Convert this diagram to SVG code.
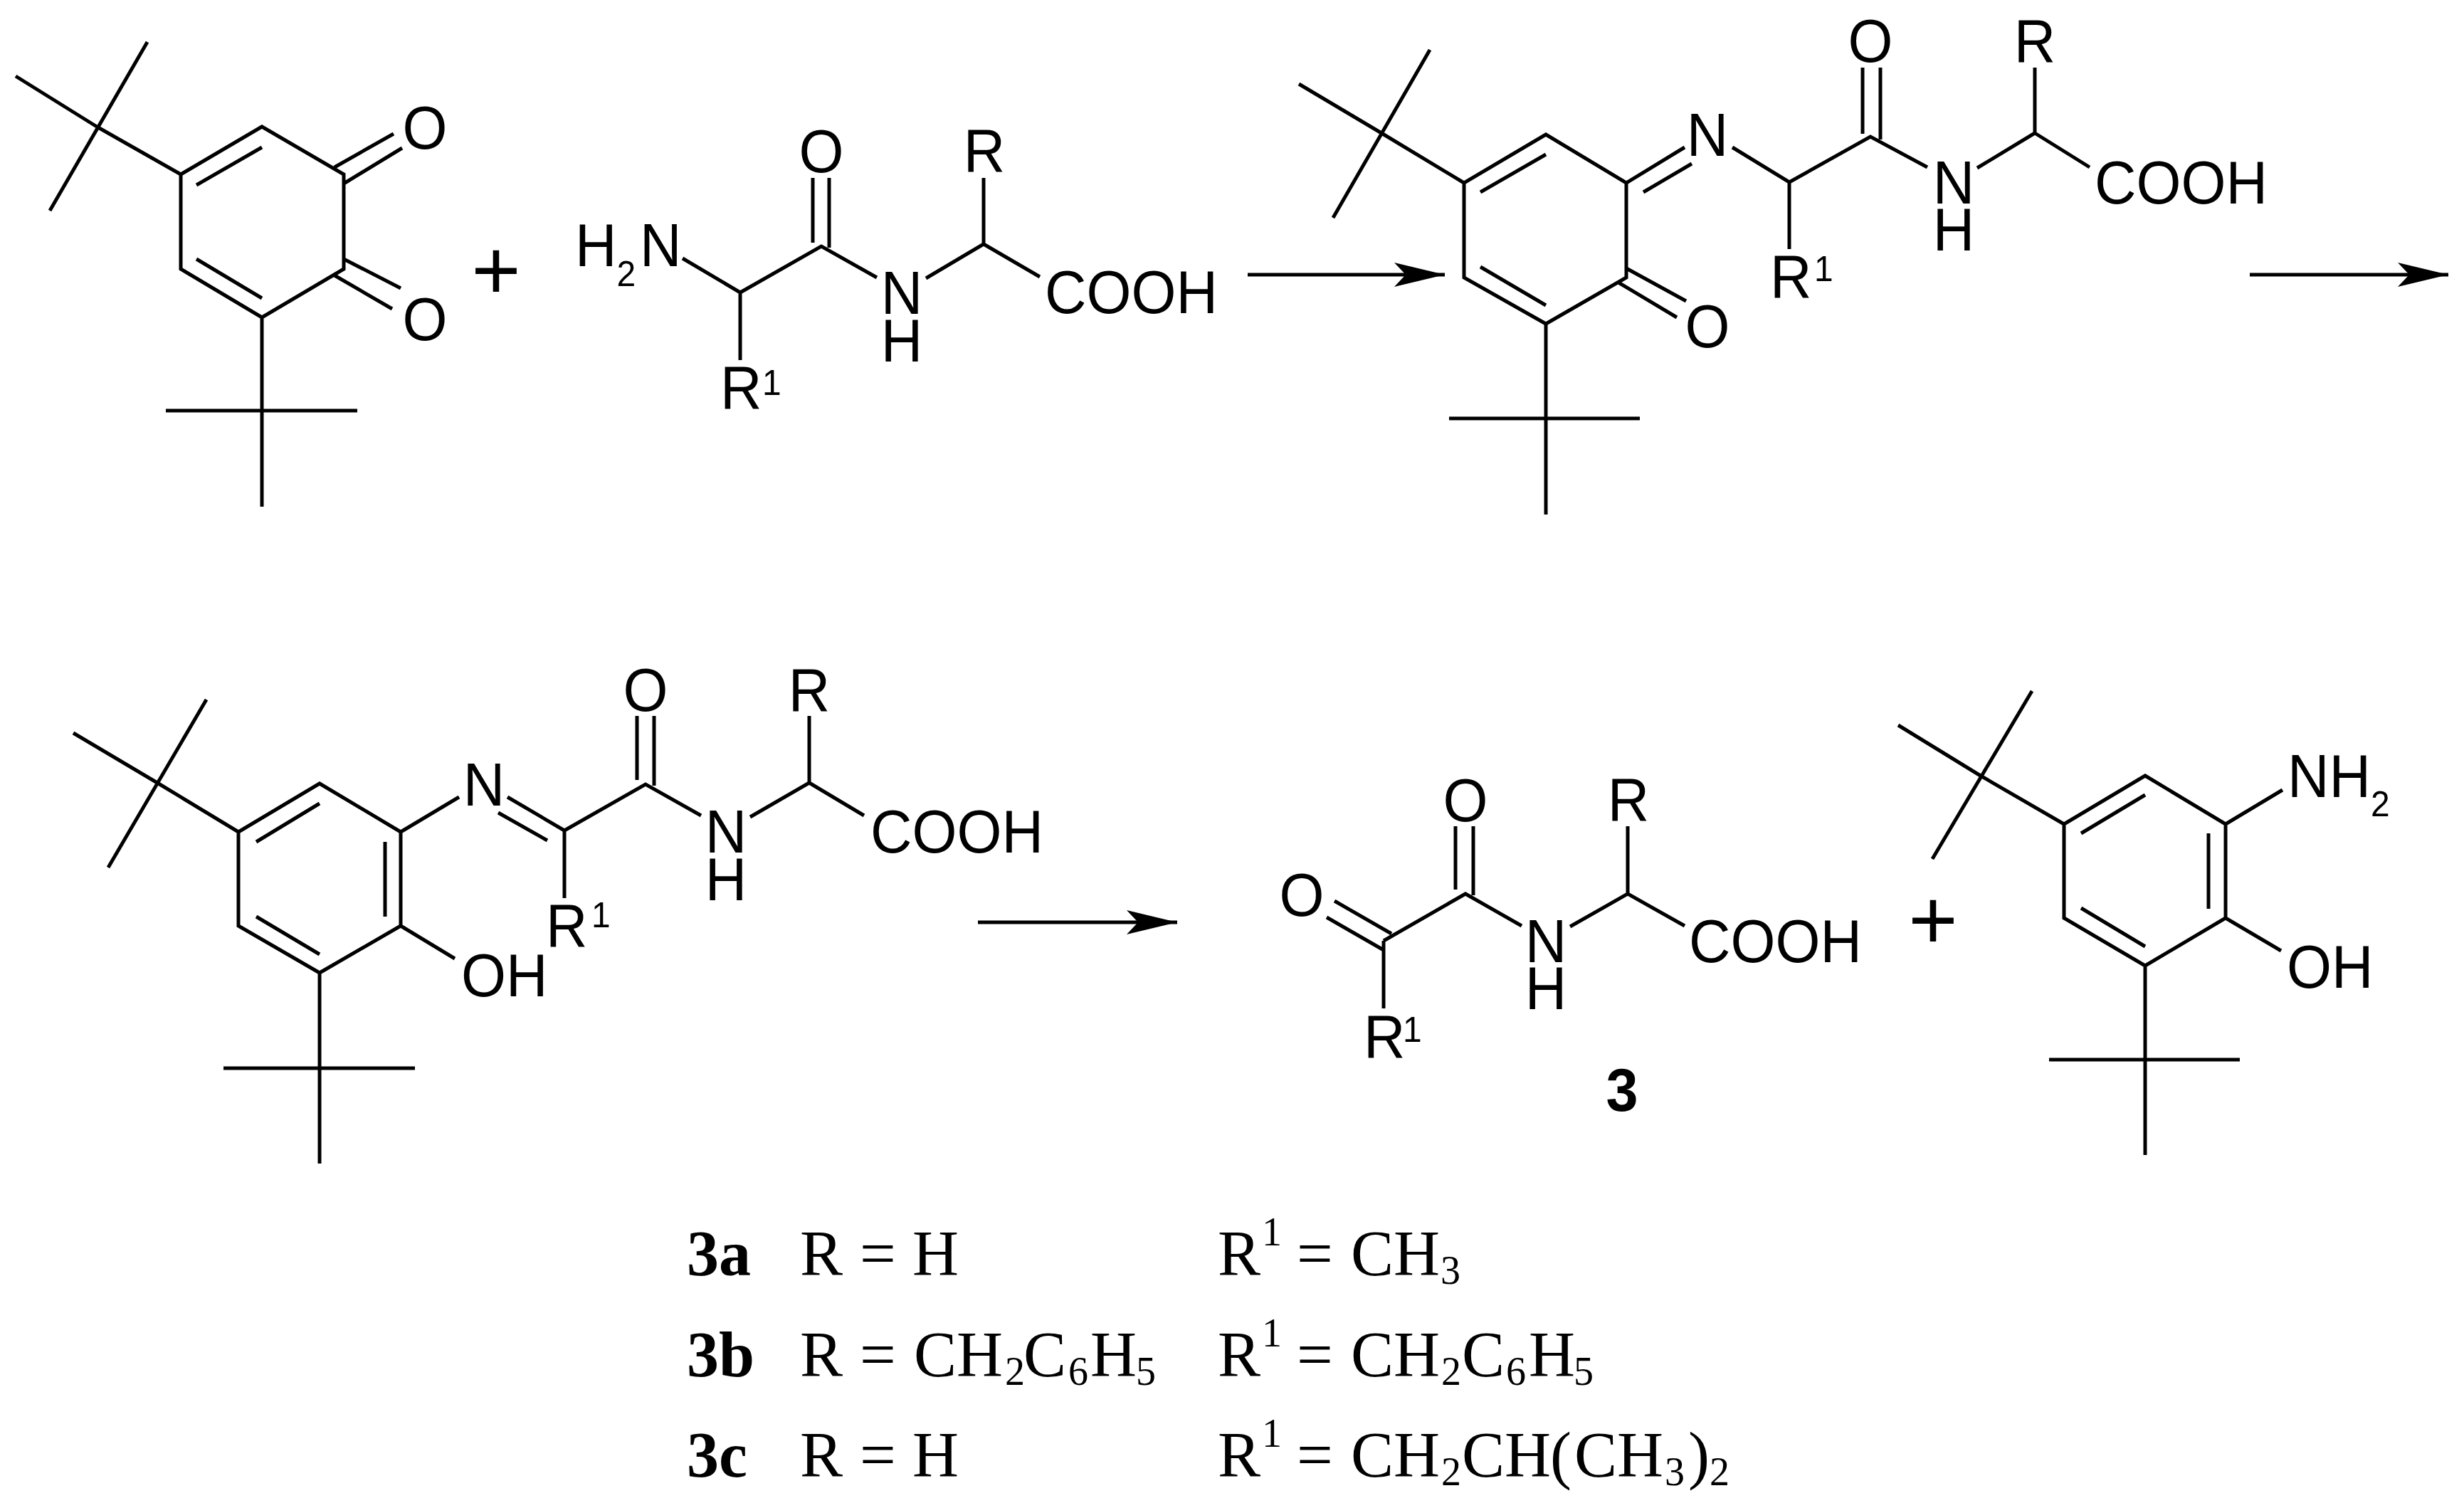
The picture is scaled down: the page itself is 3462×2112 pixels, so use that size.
<svg xmlns="http://www.w3.org/2000/svg" width="3462" height="2112" viewBox="0 0 3462 2112">
<defs>
<marker id="ah" markerUnits="userSpaceOnUse" markerWidth="80" markerHeight="40" refX="71" refY="17" orient="auto"><path d="M0 0L71 17L0 34L16 17Z" fill="#000"/></marker>
</defs>
<style>
.b{fill:none;stroke:#000;stroke-width:5;stroke-linecap:butt;stroke-linejoin:miter}
.a{fill:none;stroke:#000;stroke-width:5;marker-end:url(#ah)}
text{fill:#000}
.s{font-family:"Liberation Sans",Arial,sans-serif;font-size:81px;transform-box:fill-box;transform-origin:50% 81%;transform:scaleY(1.045)}
.m{text-anchor:middle}
.sm{font-size:48px}
.bd{font-weight:bold}
.p{font-size:119px;transform:none}
.t{font-family:"Liberation Serif","Times New Roman",serif;font-size:90px}
.ts{font-size:56px}
</style>
<rect width="3462" height="2112" fill="#fff"/>
<g id="quinone">
<path class="b" d="M368 178L483 245V378L368 446L254 378V245ZM368 207L276 260M276 364L368 419M553 188L470 235M565 208L483 258M483 364L563 405M470 387L551 434M136 178L254 245M207 59L70 296M22 107L136 178M368 446V712M233 577H502"/>
<text class="s m" x="597" y="209">O</text>
<text class="s m" x="597" y="478">O</text>
</g>
<g id="plus1"><text class="s m p" x="697" y="420">+</text></g>
<g id="dipeptide">
<path class="b" d="M959 363L1040 411L1154 346L1232 390M1040 411V506M1142 250V341M1165 250V348M1301 391L1382 343V250M1382 343L1461 389"/>
<text class="s" x="808" y="375">H<tspan class="sm" dy="27">2</tspan><tspan dy="-27" x="899">N</tspan></text>
<text class="s m" x="1154" y="242">O</text>
<text class="s m" x="1267" y="441">N</text>
<text class="s m" x="1267" y="508">H</text>
<text class="s m" x="1383" y="241">R</text>
<text class="s" x="1468" y="440">COOH</text>
<text class="s" x="1012" y="574">R</text>
<text class="s sm" x="1071" y="555">1</text>
</g>
<g id="imine">
<path class="b" d="M2172 189L2285 257V390L2172 455L2057 390V257ZM2172 217L2080 270M2080 375L2172 429M2285 257L2367 207M2309 270L2377 230M2434 207L2514 256L2628 192L2708 235M2514 256V350M2617 95V188M2642 95V196M2778 236L2859 187V95M2859 187L2936 235M2285 377L2369 423M2274 397L2356 446M1941 187L2057 257M2009 70L1873 306M1825 118L1941 187M2172 455V723M2036 588H2304"/>
<text class="s m" x="2399" y="219">N</text>
<text class="s m" x="2628" y="87">O</text>
<text class="s m" x="2745" y="286">N</text>
<text class="s m" x="2745" y="352">H</text>
<text class="s m" x="2859" y="87">R</text>
<text class="s" x="2943" y="286">COOH</text>
<text class="s" x="2487" y="418">R</text>
<text class="s sm" x="2549" y="395">1</text>
<text class="s m" x="2399" y="488">O</text>
</g>
<g id="aminophenol-imine">
<path class="b" d="M449 1101L563 1169V1301L449 1367L335 1301V1169ZM449 1129L360 1183M360 1288L449 1341M541 1183V1288M563 1169L645 1120M713 1120L793 1167L907 1102L985 1146M700 1142L769 1181M793 1167V1262M895 1006V1096M919 1006V1104M1054 1148L1137 1100V1006M1137 1100L1214 1146M563 1301L639 1347M221 1100L335 1169M290 983L152 1219M103 1030L221 1100M449 1367V1635M314 1501H583"/>
<text class="s m" x="680" y="1132">N</text>
<text class="s m" x="907" y="999">O</text>
<text class="s m" x="1020" y="1198">N</text>
<text class="s m" x="1020" y="1265">H</text>
<text class="s m" x="1137" y="999">R</text>
<text class="s" x="1223" y="1198">COOH</text>
<text class="s" x="767" y="1330">R</text>
<text class="s sm" x="831" y="1303">1</text>
<text class="s" x="648" y="1400">OH</text>
</g>
<g id="product3">
<path class="b" d="M1875 1266L1955 1312M1864 1289L1944 1335M1944 1322L2059 1256L2138 1301M1944 1322V1417M2045 1161V1250M2070 1161V1258M2206 1302L2287 1256V1161M2287 1256L2367 1301"/>
<text class="s m" x="1829" y="1287">O</text>
<text class="s m" x="2059" y="1154">O</text>
<text class="s m" x="2172" y="1352">N</text>
<text class="s m" x="2172" y="1418">H</text>
<text class="s m" x="2288" y="1153">R</text>
<text class="s" x="2373" y="1352">COOH</text>
<text class="s" x="1916" y="1486">R</text>
<text class="s sm" x="1971" y="1464">1</text>
<text class="s bd m" x="2279" y="1561">3</text>
</g>
<g id="plus2"><text class="s m p" x="2716" y="1333">+</text></g>
<g id="aminophenol">
<path class="b" d="M3014 1090L3127 1158V1290L3014 1357L2900 1290V1158ZM3014 1117L2924 1171M2924 1276L3014 1330M3103 1171V1277M3127 1158L3207 1110M3127 1290L3205 1336M2781 1089L2900 1158M2855 971L2715 1207M2667 1019L2781 1089M3014 1357V1623M2879 1489H3147"/>
<text class="s" x="3214" y="1121">NH<tspan class="sm" dy="26">2</tspan></text>
<text class="s" x="3213" y="1388">OH</text>
</g>
<g id="connectors">
<path class="a" d="M1753 386H2030"/>
<path class="a" d="M3161 386H3440"/>
<path class="a" d="M1374 1296H1654"/>
</g>
<g id="legend">
<text class="t bd" x="965" y="1792">3a</text>
<text class="t" x="1124" y="1792">R<tspan x="1208">=</tspan><tspan x="1282">H</tspan><tspan x="1711">R</tspan><tspan class="ts" x="1773" y="1750">1</tspan><tspan x="1822" y="1792">=</tspan><tspan x="1898">CH</tspan><tspan class="ts" x="2024" y="1804">3</tspan></text>
<text class="t bd" x="965" y="1934">3b</text>
<text class="t" x="1124" y="1934">R<tspan x="1208">=</tspan><tspan x="1284">CH</tspan><tspan class="ts" x="1412" y="1946">2</tspan><tspan x="1438" y="1934">C</tspan><tspan class="ts" x="1501" y="1946">6</tspan><tspan x="1532" y="1934">H</tspan><tspan class="ts" x="1596" y="1946">5</tspan><tspan x="1711" y="1934">R</tspan><tspan class="ts" x="1773" y="1892">1</tspan><tspan x="1822" y="1934">=</tspan><tspan x="1898">CH</tspan><tspan class="ts" x="2025" y="1946">2</tspan><tspan x="2054" y="1934">C</tspan><tspan class="ts" x="2116" y="1946">6</tspan><tspan x="2148" y="1934">H</tspan><tspan class="ts" x="2211" y="1946">5</tspan></text>
<text class="t bd" x="965" y="2075">3c</text>
<text class="t" x="1124" y="2075">R<tspan x="1208">=</tspan><tspan x="1282">H</tspan><tspan x="1711">R</tspan><tspan class="ts" x="1773" y="2033">1</tspan><tspan x="1822" y="2075">=</tspan><tspan x="1898">CH</tspan><tspan class="ts" x="2025" y="2087">2</tspan><tspan x="2054" y="2075">CH</tspan><tspan x="2178">(</tspan><tspan x="2212">CH</tspan><tspan class="ts" x="2339" y="2087">3</tspan><tspan x="2372" y="2075">)</tspan><tspan class="ts" x="2402" y="2087">2</tspan></text>
</g>
</svg>
